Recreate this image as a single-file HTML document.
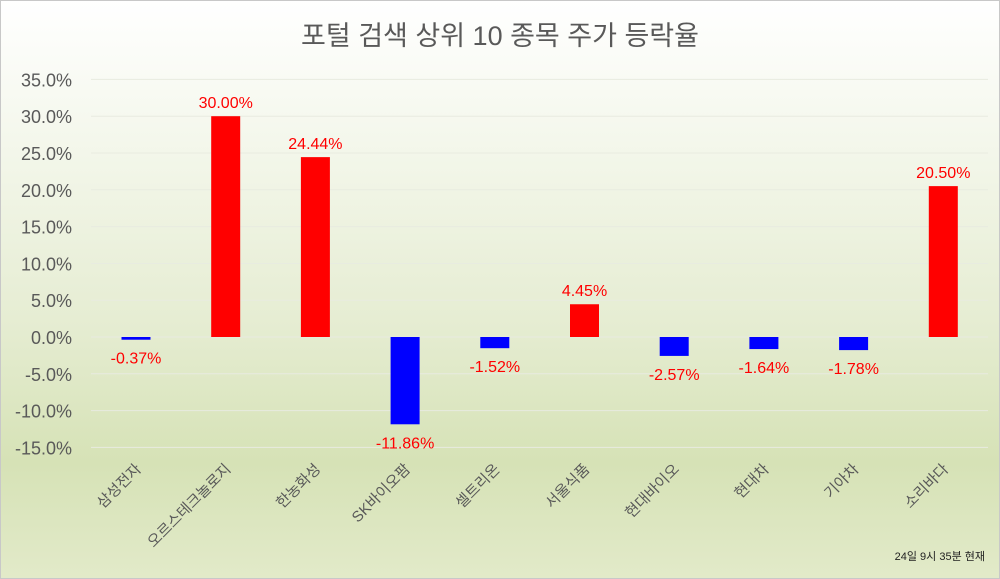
<!DOCTYPE html>
<html><head><meta charset="utf-8"><style>
html,body{margin:0;padding:0;width:1000px;height:579px;overflow:hidden}
svg text{font-family:"Liberation Sans","Noto Sans CJK KR",sans-serif}
</style></head><body>
<svg id="chart" width="1000" height="579" xmlns="http://www.w3.org/2000/svg">
<defs><linearGradient id="bg" x1="0" y1="0" x2="0" y2="1">
<stop offset="0" stop-color="#ffffff"/><stop offset="0.55" stop-color="#e6edd3"/><stop offset="0.8" stop-color="#d6e2b6"/><stop offset="1" stop-color="#e2eac9"/></linearGradient></defs>
<rect x="0.5" y="0.5" width="999" height="578" fill="url(#bg)" stroke="#c8c8c8"/>
<text x="500" y="45" text-anchor="middle" font-size="27" fill="#595959">포털 검색 상위 10 종목 주가 등락율</text>
<g id="grid"></g><g id="bars"></g><g id="labels"></g>
<text x="985" y="560" text-anchor="end" font-size="11" fill="#222">24일 9시 35분 현재</text>
</svg>
<script>
const categories=["삼성전자","오르스테크놀로지","한농화성","SK바이오팜","셀트리온","서울식품","현대바이오","현대차","기아차","소리바다"];
const values=[-0.37,30.00,24.44,-11.86,-1.52,4.45,-2.57,-1.64,-1.78,20.50];
const ticks=[35,30,25,20,15,10,5,0,-5,-10,-15];
const NS="http://www.w3.org/2000/svg";
const y=v=>337-v*7.36;
const x=i=>136+i*89.7;
function mk(t,a,p){const e=document.createElementNS(NS,t);for(const k in a)e.setAttribute(k,a[k]);p.appendChild(e);return e;}
const g=document.getElementById('grid'),b=document.getElementById('bars'),l=document.getElementById('labels');
ticks.forEach(t=>{
 const ln=mk('line',{x1:91,x2:988,y1:y(t),y2:y(t),stroke:'#e8ebe0','stroke-width':1},g);
 
 
 const tx=mk('text',{x:72,y:y(t)+7,'text-anchor':'end','font-size':18,fill:'#595959'},g);
 tx.textContent=t.toFixed(1)+'%';
 
 
});
values.forEach((v,i)=>{
 const top=Math.min(y(v),y(0)),h=Math.max(Math.abs(y(v)-y(0)),1.5);
 const r=mk('rect',{x:x(i)-14.5,y:top,width:29,height:h,fill:v>=0?'#ff0000':'#0000ff'},b);
 
 
 const ty=v>=0?y(v)-8:y(v)+24;
 const t=mk('text',{x:x(i),y:ty,'text-anchor':'middle','font-size':16,fill:'#ff0000'},l);
 t.textContent=v.toFixed(2)+'%';
 
 
 const c=mk('text',{x:x(i)+6,y:470,'text-anchor':'end','font-size':15,fill:'#595959',transform:`rotate(-45 ${x(i)+6} 470)`},l);
 c.textContent=categories[i];
 
 
});
</script>
</body></html>
